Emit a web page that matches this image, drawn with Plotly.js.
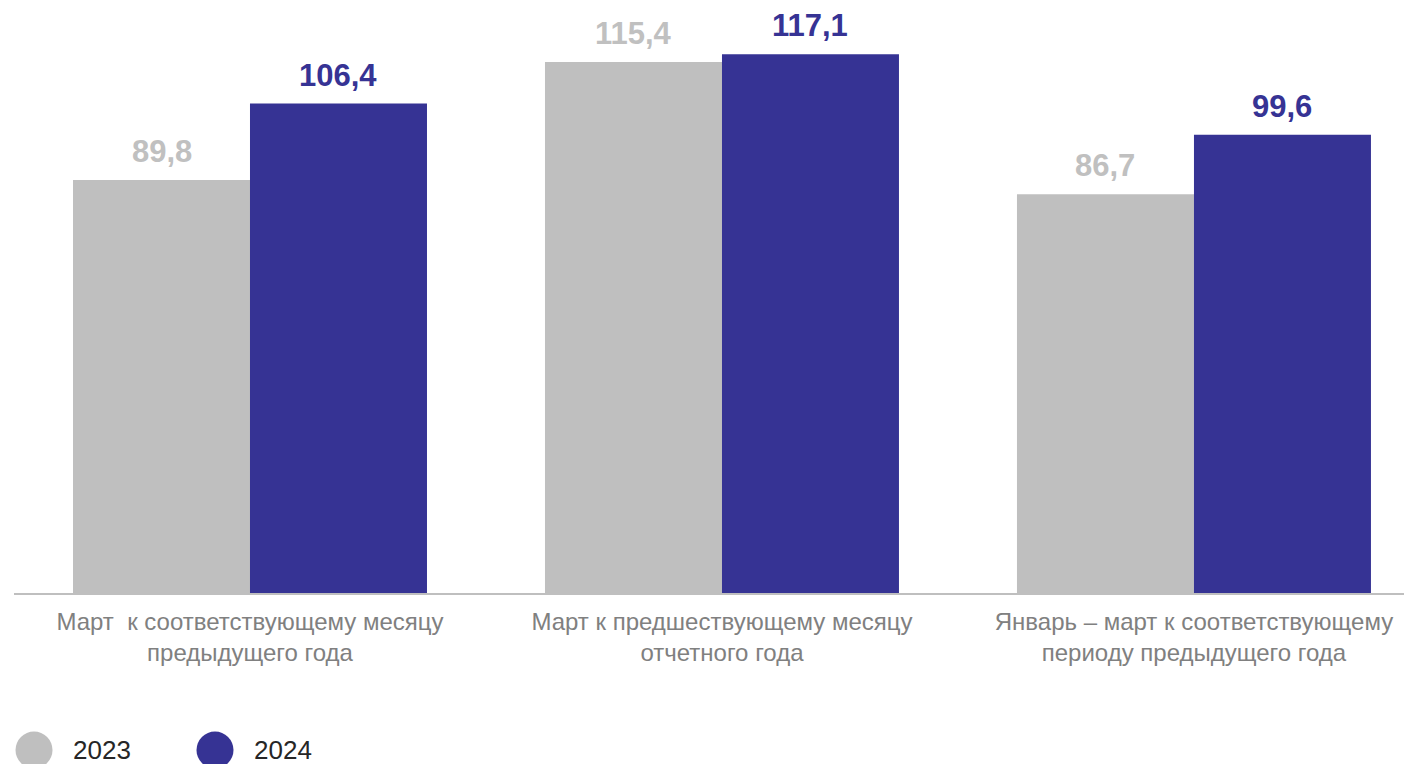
<!DOCTYPE html>
<html>
<head>
<meta charset="utf-8">
<script src="https://cdn.plot.ly/plotly-3.0.1.min.js"></script>
<style>
html,body{margin:0;padding:0;background:#fff;}
#chart{width:1404px;height:764px;}
</style>
</head>
<body>
<div id="chart"></div>
<script>
var categories = [
  "Март  к соответствующему месяцу<br>предыдущего года",
  "Март к предшествующему месяцу<br>отчетного года",
  "Январь – март к соответствующему<br>периоду предыдущего года"
];
var seriesNames = ["2023", "2024"];
var values2023 = [89.8, 115.4, 86.7];
var values2024 = [106.4, 117.1, 99.6];

var grayColor = "#bfbfbf";
var blueColor = "#363394";
var labelColors = ["#c0c0c0", "#363394"];
var FONT = "Liberation Sans, Arial, sans-serif";

var xIdx = [0, 1, 2];
var BARGAP = 0.25;
var barW = (1 - BARGAP) / 2;

function barTrace(name, vals, color) {
  return {
    type: "bar",
    name: name,
    x: xIdx,
    y: vals,
    marker: {color: color, line: {width: 0}},
    hoverinfo: "skip",
    showlegend: false
  };
}

var data = [
  barTrace(seriesNames[0], values2023, grayColor),
  barTrace(seriesNames[1], values2024, blueColor)
];

var annotations = [];
[values2023, values2024].forEach(function(vals, s){
  var off = (s === 0 ? -1 : 1) * barW / 2;
  vals.forEach(function(v, i){
    annotations.push({
      xref: "x", yref: "y", x: xIdx[i] + off, y: v,
      xanchor: "center", yanchor: "bottom", yshift: 9,
      text: "<b>" + v.toFixed(1).replace(".", ",") + "</b>",
      showarrow: false,
      font: {family: FONT, size: 31, color: labelColors[s]}
    });
  });
});

// Legend drawn with pixel-sized circle shapes and annotations
var legendColors = [grayColor, blueColor];
var legendX = [0.0144, 0.1446];
var legendY = -0.2648;
var shapes = [];
seriesNames.forEach(function(n, i){
  shapes.push({
    type: "circle", xref: "paper", yref: "paper",
    xsizemode: "pixel", ysizemode: "pixel",
    xanchor: legendX[i], yanchor: legendY,
    x0: -18.5, x1: 18.5, y0: -18.5, y1: 18.5,
    fillcolor: legendColors[i], line: {width: 0}
  });
  annotations.push({
    xref: "paper", yref: "paper", x: legendX[i], y: legendY,
    xanchor: "left", yanchor: "middle", xshift: 37,
    text: n, showarrow: false,
    font: {family: FONT, size: 26, color: "#262626"}
  });
});

var layout = {
  width: 1404, height: 764,
  margin: {l: 14, r: 0, t: 0, b: 171, pad: 0},
  paper_bgcolor: "#ffffff",
  plot_bgcolor: "#ffffff",
  barmode: "group",
  bargap: BARGAP,
  bargroupgap: 0,
  showlegend: false,
  xaxis: {
    type: "linear",
    range: [-0.5, 2.445],
    tickvals: xIdx,
    ticktext: categories,
    showgrid: false, zeroline: false,
    showline: true, linecolor: "#bfbfbf", linewidth: 2,
    ticks: "", ticklabelstandoff: 6,
    tickfont: {family: FONT, size: 24, color: "#808080"}
  },
  yaxis: {
    range: [0, 128.9],
    showgrid: false, zeroline: false, showline: false,
    showticklabels: false, ticks: ""
  },
  shapes: shapes,
  annotations: annotations,
  font: {family: FONT}
};

Plotly.newPlot("chart", data, layout, {displayModeBar: false, staticPlot: true});
</script>
</body>
</html>
